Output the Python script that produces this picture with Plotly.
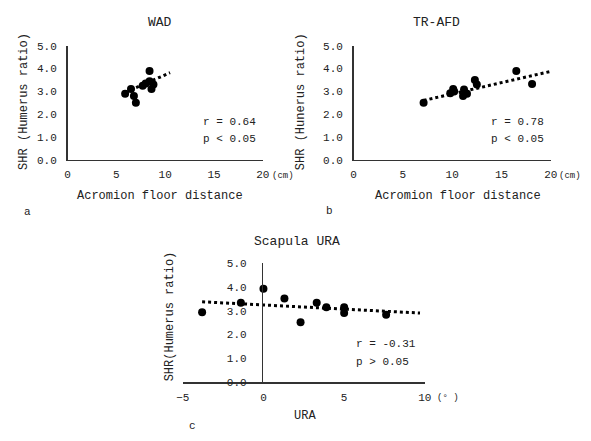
import plotly.graph_objects as go

W, H = 591, 441

# Panel a: WAD
a_x = [5.9, 6.5, 6.8, 7.0, 7.7, 8.0, 8.4, 8.4, 8.6, 8.8]
a_y = [2.9, 3.1, 2.8, 2.5, 3.25, 3.35, 3.9, 3.45, 3.1, 3.3]
trend_a_x = [5.9, 10.5]
trend_a_y = [2.95, 3.82]

# Panel b: TR-AFD
b_x = [7.1, 9.8, 10.1, 10.2, 11.1, 11.2, 11.5, 12.3, 12.5, 16.5, 18.1]
b_y = [2.5, 2.92, 3.1, 3.0, 2.8, 3.08, 2.9, 3.5, 3.3, 3.9, 3.32]
trend_b_x = [7.1, 20.0]
trend_b_y = [2.6, 3.88]

# Panel c: Scapula URA
c_x = [-3.8, -1.4, 0.0, 1.3, 2.3, 3.3, 3.9, 5.0, 5.0, 7.6]
c_y = [2.93, 3.33, 3.91, 3.51, 2.52, 3.33, 3.14, 3.14, 2.9, 2.83]
trend_c_x = [-3.8, 9.7]
trend_c_y = [3.37, 2.9]

y_ticks = [0, 1, 2, 3, 4, 5]
x_ticks_ab = [0, 5, 10, 15, 20]
x_ticks_c = [-5, 0, 5, 10]

FONT = "Liberation Mono, Courier New, monospace"
TXT = "#222222"
AX = "#333333"

fig = go.Figure()

def add_panel(xs, ys, tx, ty, xa, ya):
    fig.add_trace(go.Scatter(x=tx, y=ty, mode="lines", xaxis=xa, yaxis=ya,
                             line=dict(color="black", width=3, dash="3px,3px"),
                             showlegend=False, hoverinfo="skip"))
    fig.add_trace(go.Scatter(x=xs, y=ys, mode="markers", xaxis=xa, yaxis=ya,
                             marker=dict(color="black", size=8),
                             showlegend=False))

add_panel(a_x, a_y, trend_a_x, trend_a_y, "x", "y")
add_panel(b_x, b_y, trend_b_x, trend_b_y, "x2", "y2")
add_panel(c_x, c_y, trend_c_x, trend_c_y, "x3", "y3")

def px(x):
    return x / W

def py(y):
    return 1 - y / H

tickfont = dict(family=FONT, size=11, color=TXT)

common_x = dict(showgrid=False, zeroline=False, showline=True, linecolor=AX, linewidth=1.5,
                ticks="", tickfont=tickfont, fixedrange=True, ticklabelstandoff=4)
common_y = dict(showgrid=False, zeroline=False, showline=True, linecolor=AX, linewidth=1.5,
                ticks="", tickfont=tickfont, range=[0, 5], tickvals=y_ticks,
                tickformat=".1f", fixedrange=True, ticklabelstandoff=7)

ydom_ab = [py(159), py(42)]
ydom_c = [py(388), py(265)]

fig.update_layout(
    width=W, height=H,
    margin=dict(l=0, r=0, t=0, b=0),
    paper_bgcolor="white", plot_bgcolor="rgba(0,0,0,0)",
    xaxis=dict(common_x, domain=[px(62), px(262)], range=[0, 20], tickvals=x_ticks_ab, anchor="y"),
    yaxis=dict(common_y, domain=ydom_ab, anchor="x"),
    xaxis2=dict(common_x, domain=[px(355), px(557)], range=[0, 20], tickvals=x_ticks_ab, anchor="y2"),
    yaxis2=dict(common_y, domain=ydom_ab, anchor="x2"),
    xaxis3=dict(common_x, domain=[px(180), px(428)], range=[-5, 10], tickvals=x_ticks_c, anchor="y3"),
    yaxis3=dict(common_y, domain=ydom_c, anchor="free", position=px(261)),
)
fig.update_layout(yaxis3=dict(ticklabelstandoff=13))

def ann(text, x, y, size=12, xanchor="center", angle=0):
    fig.add_annotation(text=text, x=px(x), y=py(y), xref="paper", yref="paper",
                       showarrow=False, xanchor=xanchor, yanchor="middle", textangle=angle,
                       font=dict(family=FONT, size=size, color=TXT))

# titles
ann("WAD", 157, 18, 13)
ann("TR-AFD", 440, 18, 13)
ann("Scapula URA", 297, 243, 13)
# y axis titles
ann("SHR (Humerus ratio)", 18, 99, 12, angle=-90)
ann("SHR (Hunerus ratio)", 301, 99, 12, angle=-90)
ann("SHR(Humerus ratio)", 167, 320, 12, angle=-90)
# x axis titles
ann("Acromion floor distance", 157, 196, 12)
ann("Acromion floor distance", 462, 196, 12)
ann("URA", 305, 423, 12)
# units
ann("(cm)", 283, 176, 9)
ann("(cm)", 577, 176, 9)
ann("(° )", 452, 404, 9)
# panel letters
ann("a", 21, 213, 11)
ann("b", 330, 212, 11)
ann("c", 190, 433, 11)
# stats
ann("r = 0.64", 199, 120, 11, xanchor="left")
ann("p &lt; 0.05", 199, 138, 11, xanchor="left")
ann("r = 0.78", 494, 120, 11, xanchor="left")
ann("p &lt; 0.05", 494, 138, 11, xanchor="left")
ann("r = -0.31", 355, 348, 11, xanchor="left")
ann("p &gt; 0.05", 355, 367, 11, xanchor="left")

fig.write_html("out.html",
               config={"displayModeBar": False, "staticPlot": True},
               post_script="document.body.style.margin='0';document.body.style.overflow='hidden';")
